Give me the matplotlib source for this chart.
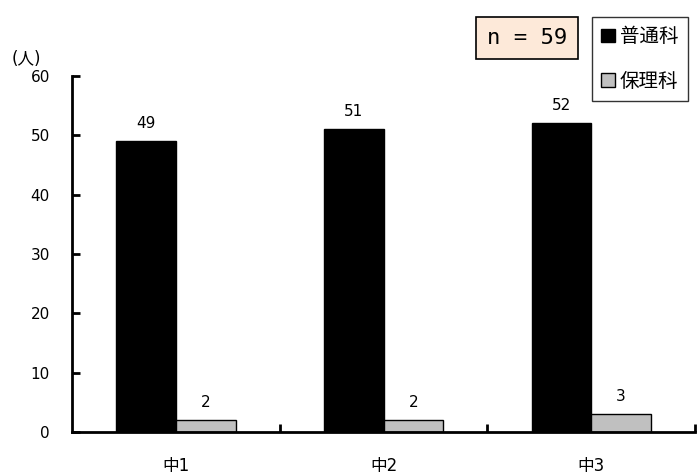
import numpy as np
import matplotlib.pyplot as plt
from matplotlib.patches import Patch

plt.rcParams['font.family'] = ['DejaVu Sans', 'Noto Sans CJK JP']

categories = ['中1', '中2', '中3']
futsuka = [49, 51, 52]
hori = [2, 2, 3]
series_names = ['普通科', '保理科']
n_total = 59

fig = plt.figure(figsize=(7, 4.76), dpi=100)
ax = fig.add_axes([0.103, 0.0924, 0.89, 0.748])

x = np.arange(len(categories))
w = 0.287
b1 = ax.bar(x - w / 2, futsuka, w, color='black', edgecolor='black', linewidth=1)
b2 = ax.bar(x + w / 2, hori, w, color='#c0c0c0', edgecolor='black', linewidth=1)

for bars, vals in [(b1, futsuka), (b2, hori)]:
    for r, v in zip(bars, vals):
        ax.text(r.get_x() + r.get_width() / 2, v + 1.7, str(v),
                ha='center', va='bottom', fontsize=11)

ax.set_xlim(-0.5, 2.5)
ax.set_ylim(0, 60)
ax.set_yticks(range(0, 61, 10))
ax.set_xticks([0.5, 1.5, 2.5], minor=False)
ax.set_xticklabels([])
ax.set_xticks(x, minor=True)
ax.set_xticklabels(categories, minor=True, fontsize=12)
ax.tick_params(axis='x', which='minor', length=0, pad=18)
ax.tick_params(axis='x', which='major', direction='in', length=6, width=2)
ax.tick_params(axis='y', direction='in', length=6, width=2, labelsize=11, pad=16)

for s in ['top', 'right']:
    ax.spines[s].set_visible(False)
for s in ['left', 'bottom']:
    ax.spines[s].set_linewidth(2)

fig.text(0.017, 0.858, '(人)', fontsize=12, ha='left', va='bottom')

fig.text(0.753, 0.920, f'n = {n_total}', fontsize=16, ha='center', va='center',
         family=['DejaVu Sans Mono'],
         bbox=dict(boxstyle='square,pad=0.5', facecolor='#fde9d9', edgecolor='black', linewidth=1.2))

handles = [Patch(facecolor='black', edgecolor='black'),
           Patch(facecolor='#c0c0c0', edgecolor='black')]
leg = fig.legend(handles, series_names, loc='upper left', bbox_to_anchor=(0.845, 0.965),
                 prop={'family': ['Noto Sans CJK JP'], 'size': 14},
                 frameon=True, fancybox=False, edgecolor='black',
                 handlelength=0.7, handleheight=0.7, handletextpad=0.25,
                 labelspacing=1.2, borderpad=0.5, borderaxespad=0)
leg.get_frame().set_linewidth(1.0)

fig.savefig('out.png', dpi=100)
